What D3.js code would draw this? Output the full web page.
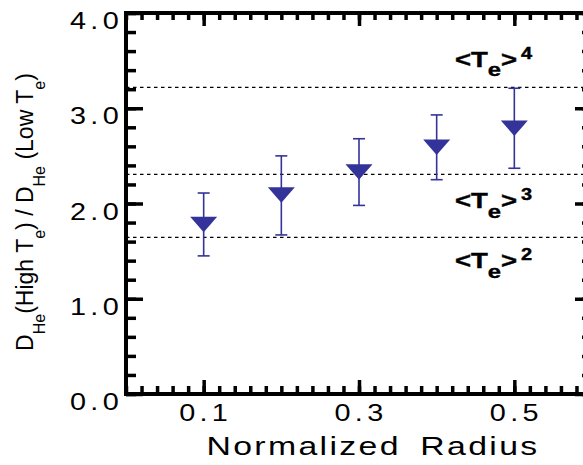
<!DOCTYPE html>
<html>
<head>
<meta charset="utf-8">
<script src="https://cdn.jsdelivr.net/npm/d3@7"></script>
<style>body { margin: 0; background: #fff; }</style>
</head>
<body>
<div id="chart"></div>
<script>
// DATA
const radius = [0.1, 0.2, 0.3, 0.4, 0.5];
const ratio = [1.78, 2.09, 2.33, 2.59, 2.79];
const errUp = [0.33, 0.41, 0.35, 0.34, 0.42];
const errDown = [0.33, 0.42, 0.35, 0.34, 0.42];
const refLevels = [1.645, 2.306, 3.22];
const refPowers = ["2", "3", "4"];
const xTickLabels = [0.1, 0.3, 0.5];
const yTickLabels = [0, 1, 2, 3, 4];

// LAYOUT
const setup = { width: 583, height: 465, left: 126, right: 592, top: 13, bottom: 394 };
const blue = "#333399";
const refLabelDy = [31, 34, -20.6];   // baseline offset of the <Te>^n labels from their line

const svg = d3.select("#chart").append("svg")
    .attr("width", setup.width)
    .attr("height", setup.height)
    .style("font-family", "'Liberation Sans', Arial, sans-serif");

const x = d3.scaleLinear().domain([0, 0.6]).range([setup.left, setup.right]);
const y = d3.scaleLinear().domain([0, 4]).range([setup.bottom, setup.top]);

const xMinor = d3.range(0, 31).map(i => i * 0.02);
const yMinor = d3.range(0, 21).map(i => i * 0.2);

// reference dashed lines
svg.selectAll(".ref").data(refLevels).join("line")
    .attr("x1", setup.left).attr("x2", setup.right)
    .attr("y1", d => y(d)).attr("y2", d => y(d))
    .attr("stroke", "#000")
    .attr("stroke-width", 1.2)
    .attr("stroke-dasharray", "3.5,3.5");

// ticks (all pointing inward)
function ticks(axis, pos, vals, size) {
    svg.append("g").attr("transform", pos)
        .call(axis.tickValues(vals).tickSize(size).tickFormat(""))
        .call(g => g.select(".domain").remove())
        .selectAll("line")
        .attr("stroke", "#000")
        .attr("stroke-width", 3.5);
}
ticks(d3.axisBottom(x), `translate(0,${setup.bottom})`, xMinor, -8);
ticks(d3.axisBottom(x), `translate(0,${setup.bottom})`, xTickLabels, -14);
ticks(d3.axisTop(x), `translate(0,${setup.top})`, xMinor, -7);
ticks(d3.axisTop(x), `translate(0,${setup.top})`, xTickLabels, -13);
ticks(d3.axisLeft(y), `translate(${setup.left},0)`, yMinor, -10);
ticks(d3.axisLeft(y), `translate(${setup.left},0)`, yTickLabels, -17);
ticks(d3.axisRight(y), `translate(${setup.right},0)`, yMinor, -10);
ticks(d3.axisRight(y), `translate(${setup.right},0)`, yTickLabels, -17);

// frame
svg.append("rect")
    .attr("x", setup.left).attr("y", setup.top)
    .attr("width", setup.right - setup.left)
    .attr("height", setup.bottom - setup.top)
    .attr("fill", "none")
    .attr("stroke", "#000")
    .attr("stroke-width", 4);

// tick labels
svg.selectAll(".ylab").data(yTickLabels).join("text")
    .attr("transform", d => `translate(123,${y(d) + 16}) scale(1.2,1)`)
    .attr("text-anchor", "end")
    .style("font-size", "24px")
    .style("letter-spacing", "3.6px")
    .text(d => d.toFixed(1));

svg.selectAll(".xlab").data(xTickLabels).join("text")
    .attr("transform", d => `translate(${x(d) + 2},421) scale(1.2,1)`)
    .attr("text-anchor", "middle")
    .style("font-size", "24px")
    .style("letter-spacing", "3.6px")
    .text(d => d.toFixed(1));

// axis titles
svg.append("text")
    .attr("transform", "translate(373,455) scale(1.3,1)")
    .attr("text-anchor", "middle")
    .style("font-size", "26px")
    .style("letter-spacing", "1.8px")
    .style("word-spacing", "6px")
    .text("Normalized Radius");

const yt = svg.append("text")
    .attr("transform", "translate(33,212) rotate(-90)")
    .attr("text-anchor", "middle")
    .style("font-size", "23px");
const yParts = [["D", 0], ["He", 1], ["(High T", 0], ["e", 1], [") / D", 0], ["He", 1], [" (Low T", 0], ["e", 1], [")", 0]];
let wasSub = 0;
yParts.forEach(([t, sub]) => {
    yt.append("tspan")
        .attr("dy", sub ? 12 : (wasSub ? -12 : 0))
        .style("font-size", sub ? "16px" : "23px")
        .text(t);
    wasSub = sub;
});

// <Te>^n labels
refLevels.forEach((lv, i) => {
    const t = svg.append("text")
        .attr("transform", `translate(455,${y(lv) + refLabelDy[i]}) scale(1.25,1)`)
        .style("font-size", "22px")
        .style("font-weight", "bold")
        .attr("stroke", "#000")
        .attr("stroke-width", 0.4);
    t.append("tspan").text("<T");
    t.append("tspan").attr("dy", 9.5).style("font-size", "19px").text("e");
    t.append("tspan").attr("dy", -9.5).text(">");
    t.append("tspan").attr("dx", 3).attr("dy", -8).style("font-size", "16px").text(refPowers[i]);
});

// error bars
const pts = radius.map((r, i) => ({ r, v: ratio[i], hi: ratio[i] + errUp[i], lo: ratio[i] - errDown[i] }));
const eb = svg.selectAll(".eb").data(pts).join("g")
    .attr("stroke", blue)
    .attr("stroke-width", 1.6);
eb.append("line")
    .attr("x1", d => x(d.r)).attr("x2", d => x(d.r))
    .attr("y1", d => y(d.hi)).attr("y2", d => y(d.lo));
eb.append("line")
    .attr("x1", d => x(d.r) - 6).attr("x2", d => x(d.r) + 6)
    .attr("y1", d => y(d.hi)).attr("y2", d => y(d.hi));
eb.append("line")
    .attr("x1", d => x(d.r) - 6).attr("x2", d => x(d.r) + 6)
    .attr("y1", d => y(d.lo)).attr("y2", d => y(d.lo));

// down triangles
svg.selectAll(".mk").data(pts).join("path")
    .attr("d", "M-13.5,-7.7L13.5,-7.7L0,7.7Z")
    .attr("transform", d => `translate(${x(d.r)},${y(d.v)})`)
    .attr("fill", blue);
</script>
</body>
</html>
